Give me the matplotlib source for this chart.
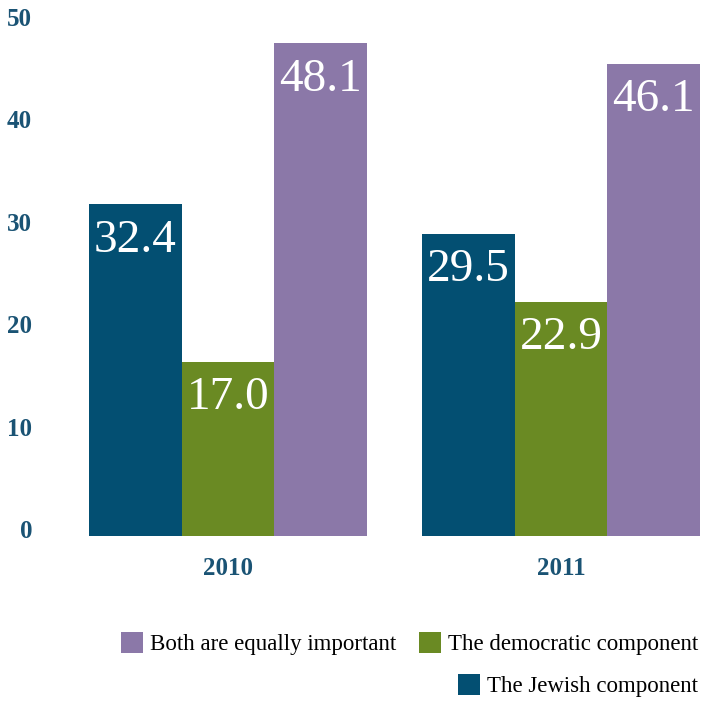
import matplotlib
matplotlib.use("Agg")
import matplotlib.pyplot as plt
from matplotlib.patches import Patch
import matplotlib.transforms as mtransforms
import numpy as np

years = ["2010", "2011"]
series_names = ["The Jewish component", "The democratic component", "Both are equally important"]
jewish = [32.4, 29.5]
democratic = [17.0, 22.9]
both = [48.1, 46.1]
y_ticks = [0, 10, 20, 30, 40, 50]

colors = ["#034f72", "#6a8a23", "#8b78a8"]
tick_color = "#1a5374"
serif = ["Liberation Serif", "DejaVu Serif"]

fig = plt.figure(figsize=(7.02, 7.09), dpi=100)
ax = fig.add_axes([89 / 702, 173 / 709, 611 / 702, 512 / 709])

x = np.arange(len(years))
w = 0.2774
values = [jewish, democratic, both]
for i, (vals, col) in enumerate(zip(values, colors)):
    pos = x + (i - 1) * w
    ax.bar(pos, vals, width=w, color=col, linewidth=0)
    for xp, v in zip(pos, vals):
        ax.annotate(f"{v:.1f}", xy=(xp, v), xytext=(0, -26), textcoords="offset points",
                    ha="center", va="center", color="white", fontsize=34, family=serif)

ax.set_xlim(-1.5 * w, 1 + 1.5 * w)
ax.set_ylim(0, 50)
ax.set_yticks(y_ticks)
ax.set_yticklabels([str(t) for t in y_ticks], family=serif, fontweight="bold",
                   fontsize=18, color=tick_color)
ax.set_xticks(x)
ax.set_xticklabels(years, family=serif, fontweight="bold", fontsize=18, color=tick_color)
ax.tick_params(axis="y", length=0, pad=41)
ax.tick_params(axis="x", length=0, pad=15)
for lbl in ax.get_yticklabels():
    lbl.set_transform(lbl.get_transform() + mtransforms.ScaledTranslation(0, 7 / 100, fig.dpi_scale_trans))
for s in ax.spines.values():
    s.set_visible(False)

leg_kw = dict(frameon=False, handlelength=0.96, handleheight=1.0, handletextpad=0.3,
              prop={"family": serif, "size": 16.5}, borderaxespad=0, borderpad=0)
h_both = Patch(facecolor=colors[2], label=series_names[2])
h_dem = Patch(facecolor=colors[1], label=series_names[1])
h_jew = Patch(facecolor=colors[0], label=series_names[0])
fig.legend(handles=[h_both, h_dem], ncol=2, columnspacing=1.0,
           loc="upper right", bbox_to_anchor=(698 / 702, 1 - 632 / 709), **leg_kw)
fig.legend(handles=[h_jew], loc="upper right",
           bbox_to_anchor=(698 / 702, 1 - 674 / 709), **leg_kw)

fig.savefig("out.png", dpi=100)
